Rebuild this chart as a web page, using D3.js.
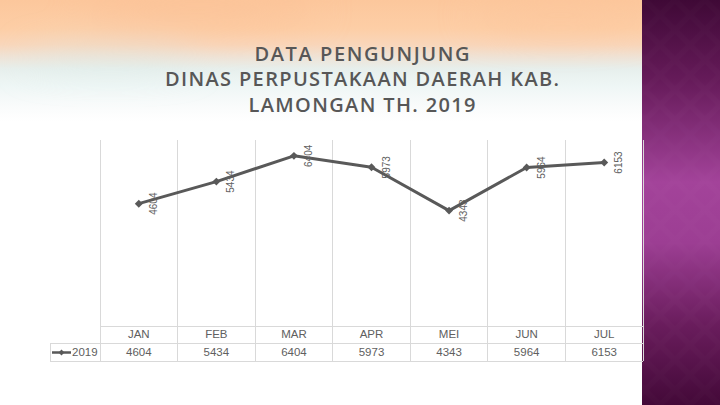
<!DOCTYPE html>
<html>
<head>
<meta charset="utf-8">
<script src="https://cdn.jsdelivr.net/npm/d3@7/dist/d3.min.js"></script>
<style>
html,body{margin:0;padding:0;background:#fff;}
svg{display:block;}
</style>
</head>
<body>
<svg id="chart" width="720" height="405"></svg>
<script>
const categories = ["JAN","FEB","MAR","APR","MEI","JUN","JUL"];
const values2019 = [4604,5434,6404,5973,4343,5964,6153];
const seriesName = "2019";
const titleLines = ["DATA PENGUNJUNG","DINAS PERPUSTAKAAN DAERAH KAB.","LAMONGAN TH. 2019"];
const yDomain = [0,7000];

const svg = d3.select("#chart");
const W = 720, H = 405;
const defs = svg.append("defs");

// background top gradient
const bg = defs.append("linearGradient").attr("id","bgGrad").attr("x1",0).attr("y1",0).attr("x2",0).attr("y2",1);
[[0,"#fcc79c"],[0.07,"#fdcea6"],[0.11,"#f9d6ba"],[0.14,"#efe3d6"],[0.17,"#e7efec"],[0.21,"#eef6f5"],[0.26,"#f9fbfb"],[0.3,"#ffffff"],[1,"#ffffff"]]
  .forEach(s=>bg.append("stop").attr("offset",s[0]).attr("stop-color",s[1]));
svg.append("rect").attr("width",W).attr("height",H).attr("fill","url(#bgGrad)");
// soft blobs
const blur = defs.append("filter").attr("id","blur").attr("x","-50%").attr("y","-50%").attr("width","200%").attr("height","200%");
blur.append("feGaussianBlur").attr("stdDeviation",18);
const blobs = svg.append("g").attr("filter","url(#blur)").attr("opacity",0.5);
blobs.append("ellipse").attr("cx",200).attr("cy",10).attr("rx",120).attr("ry",20).attr("fill","#fbbf94");
blobs.append("ellipse").attr("cx",110).attr("cy",58).attr("rx",90).attr("ry",10).attr("fill","#d6ebe8");
blobs.append("ellipse").attr("cx",560).attr("cy",15).attr("rx",90).attr("ry",18).attr("fill","#fcc49a");

// purple side panel
const pg = defs.append("linearGradient").attr("id","purpleGrad").attr("x1",0).attr("y1",0).attr("x2",0).attr("y2",1);
[[0,"#3f0936"],[0.2,"#661b5a"],[0.45,"#a3439a"],[0.6,"#9c3e93"],[0.8,"#6a1d5d"],[1,"#430938"]]
  .forEach(s=>pg.append("stop").attr("offset",s[0]).attr("stop-color",s[1]));
svg.append("rect").attr("x",642).attr("y",0).attr("width",W-642).attr("height",H).attr("fill","url(#purpleGrad)");
const pat = defs.append("pattern").attr("id","diam").attr("patternUnits","userSpaceOnUse").attr("width",30).attr("height",30);
pat.append("path").attr("d","M0,15 L15,0 L30,15 L15,30 Z").attr("fill","none").attr("stroke","#ffffff").attr("stroke-opacity",0.012).attr("stroke-width",5);
svg.append("rect").attr("x",642).attr("y",0).attr("width",W-642).attr("height",H).attr("fill","url(#diam)");

// title
const titleWidths = [215,394,227];
const titleBase = [60.5,86,111.5];
svg.append("g").selectAll("text").data(titleLines).join("text")
  .attr("x",362).attr("y",(d,i)=>titleBase[i])
  .attr("text-anchor","middle")
  .attr("font-family","'Open Sans', sans-serif")
  .attr("font-size",20).attr("font-weight",600)
  .attr("fill","#575757")
  .attr("textLength",(d,i)=>titleWidths[i]).attr("lengthAdjust","spacing")
  .text(d=>d);

// scales
const x = d3.scaleBand().domain(categories).range([100,643]).padding(0);
const y = d3.scaleLinear().domain(yDomain).range([326,140]);
const plotTop = y(yDomain[1]), plotBottom = y(0);
const row1 = plotBottom, row2 = 343.5, row3 = 361;
const grid = "#d9d9d9";

const g = svg.append("g");
// vertical category lines
const bounds = categories.map(c=>x(c)).concat([x.range()[1]]);
g.selectAll("line.v").data(bounds).join("line")
  .attr("x1",d=>d).attr("x2",d=>d).attr("y1",plotTop).attr("y2",row3)
  .attr("stroke",grid).attr("stroke-width",1).attr("shape-rendering","crispEdges");
// horizontal table lines
g.append("line").attr("x1",100).attr("x2",643).attr("y1",row1).attr("y2",row1).attr("stroke",grid).attr("shape-rendering","crispEdges");
g.append("line").attr("x1",50).attr("x2",643).attr("y1",row2).attr("y2",row2).attr("stroke",grid).attr("shape-rendering","crispEdges");
g.append("line").attr("x1",50).attr("x2",643).attr("y1",row3).attr("y2",row3).attr("stroke",grid).attr("shape-rendering","crispEdges");
g.append("line").attr("x1",50).attr("x2",50).attr("y1",row2).attr("y2",row3).attr("stroke",grid).attr("shape-rendering","crispEdges");

// table text
const tf = "'Liberation Sans', Arial, sans-serif";
g.selectAll("text.cat").data(categories).join("text")
  .attr("x",d=>x(d)+x.bandwidth()/2).attr("y",337.5)
  .attr("text-anchor","middle").attr("font-family",tf).attr("font-size",11.5).attr("fill","#606060")
  .text(d=>d);
g.selectAll("text.val").data(values2019).join("text")
  .attr("x",(d,i)=>x(categories[i])+x.bandwidth()/2).attr("y",356)
  .attr("text-anchor","middle").attr("font-family",tf).attr("font-size",11.5).attr("fill","#606060")
  .text(d=>d);
// legend key
g.append("line").attr("x1",52).attr("x2",71).attr("y1",352.5).attr("y2",352.5).attr("stroke","#595959").attr("stroke-width",2.5);
g.append("path").attr("d",d3.symbol(d3.symbolDiamond2,22)()).attr("transform","translate(61.5,352.5)").attr("fill","#595959");
g.append("text").attr("x",72).attr("y",356).attr("font-family",tf).attr("font-size",11.5).attr("fill","#606060").text(seriesName);

// line
const pts = categories.map((c,i)=>[x(c)+x.bandwidth()/2, y(values2019[i])]);
g.append("path").datum(pts).attr("d",d3.line()).attr("fill","none").attr("stroke","#595959").attr("stroke-width",3).attr("stroke-linejoin","round");
g.selectAll("path.mk").data(pts).join("path")
  .attr("d",d3.symbol(d3.symbolDiamond2,40)()).attr("transform",d=>`translate(${d[0]},${d[1]})`).attr("fill","#595959");
// data labels
g.selectAll("text.lbl").data(values2019).join("text")
  .attr("transform",(d,i)=>`translate(${pts[i][0]+18},${pts[i][1]}) rotate(-90)`)
  .attr("text-anchor","middle").attr("font-family",tf).attr("font-size",10).attr("fill","#606060")
  .text(d=>d);
</script>
</body>
</html>
